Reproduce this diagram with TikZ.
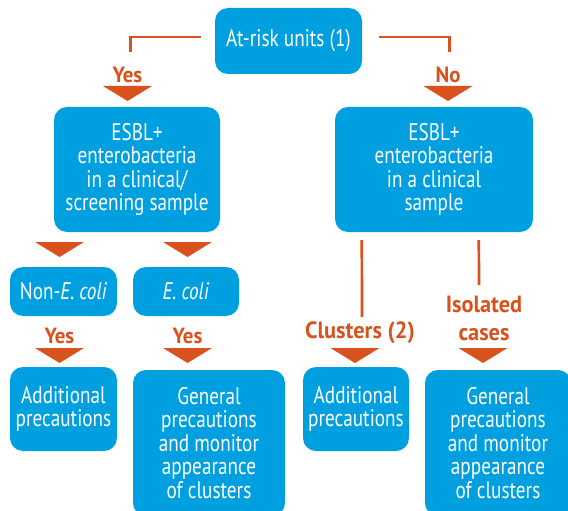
\documentclass[tikz,border=0pt]{standalone}
\usepackage{fontspec}
\setmainfont{PT Sans}[FakeStretch=0.80]
\newfontfamily\labfont{PT Sans}[FakeStretch=0.95]
\usetikzlibrary{calc}
\definecolor{boxblue}{HTML}{00A0E0}
\definecolor{arrorange}{HTML}{D9511D}
\newcommand\orangetri[2]{\fill[arrorange] (#1-24.5,#2) -- (#1+24.5,#2) -- (#1,#2+15) -- cycle;}
\begin{document}
\begin{tikzpicture}[x=1pt,y=-1pt,
 box/.style={fill=boxblue, rounded corners=13pt, text=white, align=center,
   font=\fontsize{24}{23.5}\selectfont, inner sep=0pt},
 lab/.style={text=arrorange, font=\labfont\bfseries\fontsize{22}{29}\selectfont, align=center, inner sep=0pt, anchor=base},
 biglab/.style={lab, font=\labfont\bfseries\fontsize{23.5}{28.5}\selectfont},
 conn/.style={draw=arrorange, line width=2.7pt}]
\useasboundingbox (0,0) rectangle (568,511);
\clip (0,0) rectangle (568,511);
% boxes
\node[box, minimum width=147pt, minimum height=66pt] (top) at (288.5,41) {At-risk units (1)};
\node[box, minimum width=166pt, minimum height=125pt] (lbig) at (137,169.5) {ESBL+\\enterobacteria\\in a clinical/\\screening sample};
\node[box, minimum width=198pt, minimum height=125pt] (rbig) at (434,169.5) {ESBL+\\enterobacteria\\in a clinical\\sample};
\node[box, minimum width=107pt, minimum height=49pt] (nonE) at (63.5,291.5) {Non-\textit{E. coli}};
\node[box, minimum width=106pt, minimum height=49pt] (ecoli) at (186,291.5) {\textit{E. coli}};
\node[box, minimum width=107pt, minimum height=84pt] (addL) at (63.5,409) {Additional\\precautions};
\node[box, minimum width=152pt, minimum height=146pt] (genL) at (209,443) {General\\precautions\\and monitor\\appearance\\of clusters};
\node[box, minimum width=106pt, minimum height=84pt] (addR) at (356,409) {Additional\\precautions};
\node[box, minimum width=146pt, minimum height=146pt] (genR) at (498,443) {General\\precautions\\and monitor\\appearance\\of clusters};
% connectors
\coordinate (yesTop) at (130.4,52);
\coordinate (noTop) at (449.6,52);
\draw[conn] ($(top.west)+(-14,-4)$) -| (yesTop);
\draw[conn] ($(top.east)+(17,-4)$) -| (noTop);
\coordinate (clEnd) at (362,317);
\coordinate (isoEnd) at (479,285);
\draw[conn] ($(rbig.south west)+(27,8)$) -- (clEnd);
\draw[conn] ($(rbig.south west)+(144,8)$) -- (isoEnd);
% labels
\node[lab] (yes1) at (127.5,82) {Yes};
\node[lab] (no1) at (448,82) {No};
\node[lab] (yes2) at (59.5,343) {Yes};
\node[lab] (yes3) at (187.5,343) {Yes};
\node[biglab] (clus) at (360,338) {Clusters (2)};
\node[biglab, anchor=base] (iso) at (484,312) {Isolated};
\node[biglab, anchor=base] (cases) at (484,340) {cases};
% arrowheads
\orangetri{127.5}{86}
\orangetri{448}{86}
\orangetri{59.5}{242}
\orangetri{187.5}{242}
\orangetri{59.5}{348}
\orangetri{187.5}{348}
\orangetri{355}{348}
\orangetri{483}{348}
\end{tikzpicture}
\end{document}
